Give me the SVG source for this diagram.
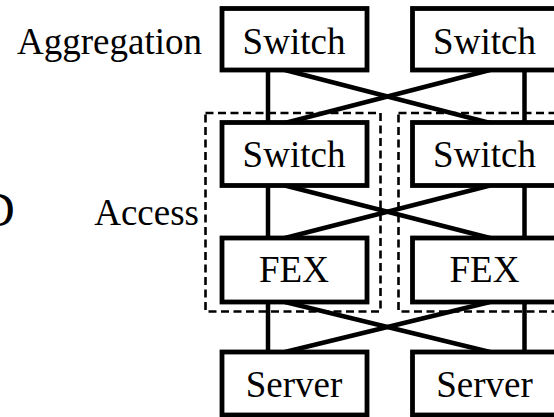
<svg xmlns="http://www.w3.org/2000/svg" width="554" height="417" viewBox="0 0 554 417">
<style>
.box{fill:#fff;stroke:#000;stroke-width:4.8}
.grp{fill:none;stroke:#000;stroke-width:2.6;stroke-dasharray:8 4.5}
.ln{stroke:#000;stroke-width:4.5;fill:none}
.t{font-family:"Liberation Serif","Times New Roman",serif;font-size:37px;fill:#000}
.c{text-anchor:middle}
.e{text-anchor:end}
</style>
<rect width="554" height="417" fill="#fff"/>
<g id="labels">
<text class="t e" x="202" y="54">Aggregation</text>
<text class="t e" x="199" y="225">Access</text>
<text class="t" x="-20" y="226" style="font-size:48px">D</text>
</g>
<g id="groups">
<rect id="access-group-left" class="grp" x="205.5" y="113" width="175" height="198.5"/>
<rect id="access-group-right" class="grp" x="398.5" y="113" width="175" height="198.5"/>
</g>
<g id="connectors">
<line class="ln" x1="268" y1="70" x2="268" y2="123"/>
<line class="ln" x1="524.5" y1="70" x2="524.5" y2="123"/>
<line class="ln" x1="285" y1="70" x2="490" y2="123"/>
<line class="ln" x1="490" y1="70" x2="285" y2="123"/>
<line class="ln" x1="268" y1="185.5" x2="268" y2="238"/>
<line class="ln" x1="524.5" y1="185.5" x2="524.5" y2="238"/>
<line class="ln" x1="285" y1="185.5" x2="490" y2="238"/>
<line class="ln" x1="490" y1="185.5" x2="285" y2="238"/>
<line class="ln" x1="268" y1="302" x2="268" y2="352"/>
<line class="ln" x1="524.5" y1="302" x2="524.5" y2="352"/>
<line class="ln" x1="285" y1="302" x2="490" y2="352"/>
<line class="ln" x1="490" y1="302" x2="285" y2="352"/>
</g>
<g id="agg-switch-1"><rect class="box" x="222" y="8.5" width="145" height="61.5"/><text class="t c" x="294" y="54">Switch</text></g>
<g id="agg-switch-2"><rect class="box" x="412.5" y="8.5" width="145" height="61.5"/><text class="t c" x="484.5" y="54">Switch</text></g>
<g id="acc-switch-1"><rect class="box" x="222" y="122.5" width="145" height="63"/><text class="t c" x="294" y="167">Switch</text></g>
<g id="acc-switch-2"><rect class="box" x="412.5" y="122.5" width="145" height="63"/><text class="t c" x="484.5" y="167">Switch</text></g>
<g id="fex-1"><rect class="box" x="222" y="238" width="145" height="64"/><text class="t c" x="294" y="282">FEX</text></g>
<g id="fex-2"><rect class="box" x="412.5" y="238" width="145" height="64"/><text class="t c" x="484.5" y="282">FEX</text></g>
<g id="server-1"><rect class="box" x="222" y="352" width="145" height="63"/><text class="t c" x="294" y="397">Server</text></g>
<g id="server-2"><rect class="box" x="412.5" y="352" width="145" height="63"/><text class="t c" x="484.5" y="397">Server</text></g>
</svg>
